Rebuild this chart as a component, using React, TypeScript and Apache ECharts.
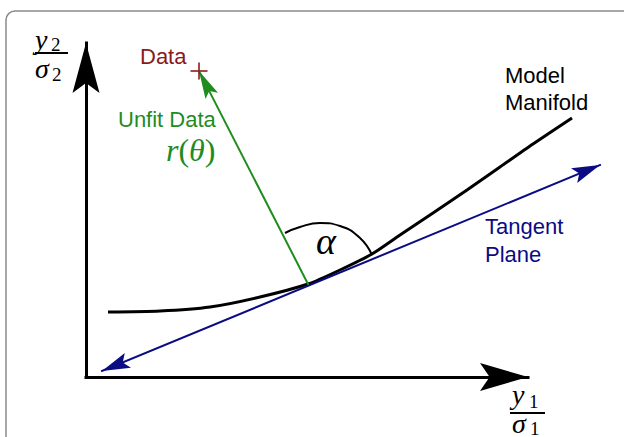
import React, { useEffect, useRef } from "react";
import * as echarts from "echarts";

// Model manifold curve (diagram coordinates, y grows downward)
const manifoldX = [108, 160, 210, 260, 308, 340, 372, 400, 433, 467, 500, 533, 572];
const manifoldY = [312, 311, 307, 297, 284, 270, 254, 235, 213, 190, 167, 144, 118];

// Angle arc alpha
const arcX = [285, 300, 320, 340, 360, 372];
const arcY = [233, 227, 223, 226, 238, 255];

// Axes origin and arrow tips
const origin = [86, 377];
const yAxisTip = [86, 43];
const xAxisTip = [528, 377];

// Tangent plane endpoints
const tangentStart = [102, 371];
const tangentEnd = [600, 165];

// Residual vector: from tangent point to data
const tangentPoint = [308, 284];
const dataPoint = [199, 71];

const BLACK = "#000000";
const NAVY = "#0b0b84";
const GREEN = "#1f8c1f";
const RED = "#8b1a1a";

const ARROW = "path://M10,0L20,50L10,40L0,50Z";

export default function App() {
  const ref = useRef<HTMLDivElement>(null);

  useEffect(() => {
    if (!ref.current) return;
    const chart = echarts.init(ref.current, null, { renderer: "svg" });

    const sans = "'Liberation Sans', Arial, sans-serif";
    const serif = "'Liberation Serif', 'Times New Roman', serif";

    const txt = (text: string, x: number, y: number, fill: string, size: number, opts: any = {}) => ({
      type: "text",
      x,
      y,
      z: 10,
      style: {
        text,
        fill,
        fontSize: size,
        fontFamily: opts.family || sans,
        fontStyle: opts.italic ? "italic" : "normal",
        verticalAlign: "middle",
        align: opts.align || "left",
      },
    });

    const arrowSeries = (
      from: number[],
      to: number[],
      color: string,
      width: number,
      headW: number,
      headH: number,
      both: boolean
    ) => ({
      type: "line",
      data: [],
      silent: true,
      markLine: {
        silent: true,
        animation: false,
        label: { show: false },
        emphasis: { disabled: true },
        lineStyle: { color, width, type: "solid", opacity: 1, cap: "square" },
        data: [
          [
            {
              coord: from,
              symbol: both ? ARROW : "none",
              symbolSize: [headW, headH],
              symbolOffset: [0, headH / 2],
            },
            {
              coord: to,
              symbol: ARROW,
              symbolSize: [headW, headH],
              symbolOffset: [0, headH / 2],
            },
          ],
        ],
      },
      z: 4,
    });

    chart.setOption({
      animation: false,
      grid: { left: 0, right: 0, top: 0, bottom: 0 },
      xAxis: { type: "value", min: 0, max: 624, show: false },
      yAxis: { type: "value", min: 0, max: 437, inverse: true, show: false },
      series: [
        {
          type: "line",
          data: manifoldX.map((x, i) => [x, manifoldY[i]]),
          smooth: 0.25,
          showSymbol: false,
          lineStyle: { color: BLACK, width: 3 },
          z: 3,
        },
        {
          type: "line",
          data: arcX.map((x, i) => [x, arcY[i]]),
          smooth: 0.5,
          showSymbol: false,
          lineStyle: { color: BLACK, width: 2 },
          z: 3,
        },
        arrowSeries(origin, yAxisTip, BLACK, 3, 27, 50, false),
        arrowSeries(origin, xAxisTip, BLACK, 3, 28, 48, false),
        arrowSeries(tangentStart, tangentEnd, NAVY, 2, 16, 28, true),
        arrowSeries(tangentPoint, dataPoint, GREEN, 2, 14, 28, false),
        {
          type: "scatter",
          data: [dataPoint],
          symbol: "path://M0,8L16,8M8,0L8,16",
          symbolSize: 17,
          itemStyle: { color: "none", borderColor: RED, borderWidth: 2 },
          z: 6,
        },
      ],
      graphic: [
        {
          type: "rect",
          z: 0,
          shape: { x: 6, y: 11, width: 700, height: 500, r: 9 },
          style: { fill: "none", stroke: "#8a8a8a", lineWidth: 1.5 },
        },
        txt("Data", 140, 56, RED, 22),
        txt("Unfit Data", 118, 119, GREEN, 22),
        {
          type: "text",
          x: 166,
          y: 150,
          z: 10,
          style: {
            text: "{i|r}{u|(}{i|θ}{u|)}",
            verticalAlign: "middle",
            rich: {
              i: { fontFamily: serif, fontStyle: "italic", fontSize: 32, fill: GREEN },
              u: { fontFamily: serif, fontSize: 32, fill: GREEN },
            },
          },
        },
        txt("α", 316, 241, BLACK, 38, { family: serif, italic: true }),
        txt("Model", 505, 75, BLACK, 22),
        txt("Manifold", 505, 102, BLACK, 22),
        txt("Tangent", 485, 226, NAVY, 22),
        txt("Plane", 485, 254, NAVY, 22),
        // y2 / sigma2
        txt("y", 35, 39, BLACK, 28, { family: serif, italic: true }),
        txt("2", 51, 44, BLACK, 19, { family: serif }),
        { type: "rect", z: 10, shape: { x: 35, y: 52, width: 33, height: 2 }, style: { fill: BLACK } },
        txt("σ", 35, 68, BLACK, 28, { family: serif, italic: true }),
        txt("2", 52, 74, BLACK, 19, { family: serif }),
        // y1 / sigma1
        txt("y", 512, 394, BLACK, 28, { family: serif, italic: true }),
        txt("1", 529, 401, BLACK, 19, { family: serif }),
        { type: "rect", z: 10, shape: { x: 510, y: 412, width: 35, height: 2 }, style: { fill: BLACK } },
        txt("σ", 512, 423, BLACK, 28, { family: serif, italic: true }),
        txt("1", 530, 428, BLACK, 19, { family: serif }),
      ],
    });

    return () => chart.dispose();
  }, []);

  return (
    <div
      ref={ref}
      style={{ position: "fixed", left: 0, top: 0, width: 624, height: 437, background: "#ffffff" }}
    />
  );
}
